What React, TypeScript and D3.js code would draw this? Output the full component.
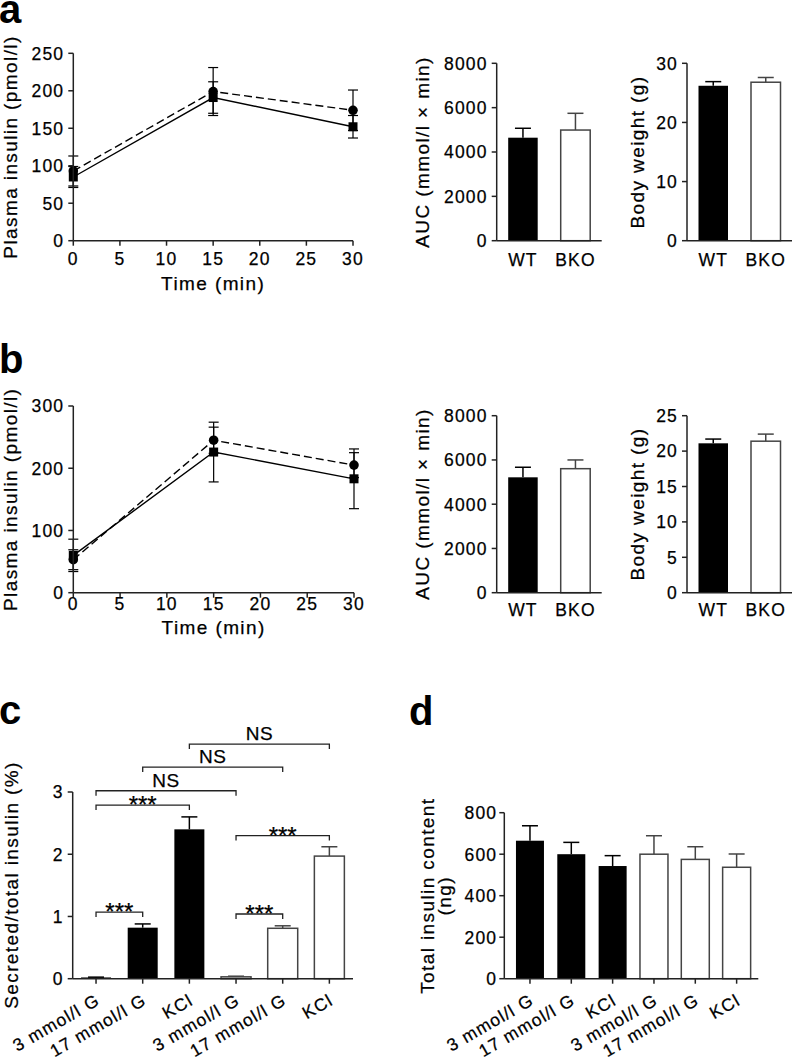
import React from 'react';
import * as d3 from 'd3';

const FONT = "'Liberation Sans', Arial, Helvetica, sans-serif";
const AX = '#222';
const GRAY = '#444';

// ---------- data ----------
const timeMin = [0, 15, 30];
const timeTicks = [0, 5, 10, 15, 20, 25, 30];

const aWtInsulin = [85, 191, 152];
const aWtInsulinSem = [14, 21, 15];
const aBkoInsulin = [93, 199, 174];
const aBkoInsulinSem = [20, 32, 27];
const aInsulinTicks = [0, 50, 100, 150, 200, 250];

const bWtInsulin = [60, 226, 183];
const bWtInsulinSem = [26, 48, 48];
const bBkoInsulin = [53, 245, 205];
const bBkoInsulinSem = [16, 21, 20];
const bInsulinTicks = [0, 100, 200, 300];

const genotypes = ['WT', 'BKO'];
const genotypeFill = ['#000', '#fff'];
const aAuc = [4645, 4990];
const aAucSem = [425, 755];
const aWeight = [26.2, 26.8];
const aWeightSem = [0.7, 0.8];
const bAuc = [5215, 5605];
const bAucSem = [455, 395];
const bWeight = [21.1, 21.4];
const bWeightSem = [0.6, 1.0];
const aucTicks = [0, 2000, 4000, 6000, 8000];
const aWeightTicks = [0, 10, 20, 30];
const bWeightTicks = [0, 5, 10, 15, 20, 25];

const conditions = ['3 mmol/l G', '17 mmol/l G', 'KCl', '3 mmol/l G', '17 mmol/l G', 'KCl'];
const conditionFill = ['#000', '#000', '#000', '#fff', '#fff', '#fff'];
const secreted = [0.02, 0.82, 2.4, 0.03, 0.81, 1.97];
const secretedSem = [0.005, 0.06, 0.2, 0.01, 0.04, 0.15];
const secretedTicks = [0, 1, 2, 3];
const sigFrom = [0, 0, 0, 1, 2, 3, 3];
const sigTo = [1, 2, 3, 4, 5, 5, 4];
const sigLevel = [1.07, 2.79, 3.02, 3.4, 3.77, 2.3, 1.04];
const sigLabel = ['***', '***', 'NS', 'NS', 'NS', '***', '***'];

const content = [665, 600, 543, 600, 575, 537];
const contentSem = [72, 57, 50, 89, 61, 64];
const contentTicks = [0, 200, 400, 600, 800];

// ---------- components ----------
const TICK_FS = 17.5;
const TICK_LS = '1.2px';
const TITLE_FS = 19;
const TITLE_LS = '1.4px';
const TXT = { stroke: '#000', strokeWidth: 0.25 } as const;

function YAxis({ x, y, ticks, labelGap }: any) {
  const [r0, r1] = [y(ticks[0]), y(ticks[ticks.length - 1])];
  return (
    <g>
      <line x1={x} x2={x} y1={r0} y2={r1} stroke={AX} strokeWidth={1.5} />
      {ticks.map((t: number) => (
        <g key={t}>
          <line x1={x - 5} x2={x} y1={y(t)} y2={y(t)} stroke={AX} strokeWidth={1.5} />
          <text x={x - labelGap} y={y(t) + 6.3} textAnchor="end" fontSize={TICK_FS} {...TXT} style={{ letterSpacing: TICK_LS }}>
            {t}
          </text>
        </g>
      ))}
    </g>
  );
}

function YTitle({ x, y, lines }: any) {
  return (
    <g>
      {lines.map((l: string, i: number) => (
        <text
          key={i}
          transform={`translate(${x + i * 16.5},${y}) rotate(-90)`}
          textAnchor="middle"
          fontSize={TITLE_FS}
          {...TXT}
          style={{ letterSpacing: TITLE_LS }}
        >
          {l}
        </text>
      ))}
    </g>
  );
}

function LinePanel({ left, right, top, bottom, yMax, yTicks, wt, wtSem, bko, bkoSem, tickDy, titleDy }: any) {
  const x = d3.scaleLinear().domain([0, 30]).range([left, right]);
  const y = d3.scaleLinear().domain([0, yMax]).range([bottom, top]);
  const line = d3
    .line<number>()
    .x((_, i) => x(timeMin[i]))
    .y((d) => y(d));
  const cap = 5;
  const errs = (m: number[], s: number[], k: string) =>
    m.map((v, i) => {
      const cx = x(timeMin[i]);
      return (
        <g key={k + i} stroke="#000" strokeWidth={1.2}>
          <line x1={cx} x2={cx} y1={y(v - s[i])} y2={y(v + s[i])} />
          <line x1={cx - cap} x2={cx + cap} y1={y(v + s[i])} y2={y(v + s[i])} />
          <line x1={cx - cap} x2={cx + cap} y1={y(v - s[i])} y2={y(v - s[i])} />
        </g>
      );
    });
  return (
    <g>
      {errs(wt, wtSem, 'w')}
      {errs(bko, bkoSem, 'b')}
      <path d={line(bko) || ''} fill="none" stroke="#000" strokeWidth={1.4} strokeDasharray="8,4" />
      <path d={line(wt) || ''} fill="none" stroke="#000" strokeWidth={1.4} />
      {bko.map((v: number, i: number) => (
        <circle key={'c' + i} cx={x(timeMin[i])} cy={y(v)} r={4.8} fill="#000" />
      ))}
      {wt.map((v: number, i: number) => (
        <rect key={'s' + i} x={x(timeMin[i]) - 4.5} y={y(v) - 4.5} width={9} height={9} fill="#000" />
      ))}
      <YAxis x={left} y={y} ticks={yTicks} labelGap={9} />
      <line x1={left} x2={right} y1={bottom} y2={bottom} stroke={AX} strokeWidth={1.5} />
      {timeTicks.map((t) => (
        <g key={t}>
          <line x1={x(t)} x2={x(t)} y1={bottom} y2={bottom + 5} stroke={AX} strokeWidth={1.5} />
          <text x={x(t)} y={bottom + tickDy} textAnchor="middle" fontSize={TICK_FS} {...TXT} style={{ letterSpacing: TICK_LS }}>
            {t}
          </text>
        </g>
      ))}
      <text x={(left + right) / 2} y={bottom + titleDy} textAnchor="middle" fontSize={TITLE_FS} {...TXT} style={{ letterSpacing: TITLE_LS }}>
        Time (min)
      </text>
      <YTitle x={17} y={(top + bottom) / 2} lines={['Plasma insulin (pmol/l)']} />
    </g>
  );
}

function BarPanel({
  axisX, axisEnd, bandStart, bandEnd, top, bottom, yMax, yTicks, cats, fills, values, sems,
  barWidth, rotated, labelDy, labelGap, xTicks,
}: any) {
  const idx = cats.map((_: string, i: number) => i);
  const band = d3.scaleBand<number>().domain(idx).range([bandStart, bandEnd]).padding(0);
  const y = d3.scaleLinear().domain([0, yMax]).range([bottom, top]);
  const cx = (i: number) => (band(i) as number) + band.bandwidth() / 2;
  const capW = 8;
  return (
    <g>
      {values.map((v: number, i: number) => {
        const stroke = fills[i] === '#000' ? '#000' : GRAY;
        const top2 = y(v + sems[i]);
        return (
          <g key={i}>
            <line x1={cx(i)} x2={cx(i)} y1={y(v)} y2={top2} stroke={stroke} strokeWidth={1.5} />
            <line x1={cx(i) - capW} x2={cx(i) + capW} y1={top2} y2={top2} stroke={stroke} strokeWidth={1.5} />
            <rect
              x={cx(i) - barWidth / 2}
              y={y(v)}
              width={barWidth}
              height={bottom - y(v)}
              fill={fills[i]}
              stroke={stroke}
              strokeWidth={fills[i] === '#000' ? 0 : 1.5}
            />
          </g>
        );
      })}
      <YAxis x={axisX} y={y} ticks={yTicks} labelGap={labelGap} />
      <line x1={axisX} x2={axisEnd} y1={bottom} y2={bottom} stroke={AX} strokeWidth={1.5} />
      {cats.map((c: string, i: number) => (
        <g key={i}>
          {xTicks && <line x1={cx(i)} x2={cx(i)} y1={bottom} y2={bottom + 5} stroke={AX} strokeWidth={1.5} />}
          {rotated ? (
            <text
              transform={`translate(${cx(i) + 5},${bottom + 25}) rotate(-30)`}
              textAnchor="end"
              fontSize={TICK_FS}
              {...TXT}
              style={{ letterSpacing: TICK_LS }}
            >
              {c}
            </text>
          ) : (
            <text x={cx(i)} y={bottom + labelDy} textAnchor="middle" fontSize={TICK_FS} {...TXT} style={{ letterSpacing: TICK_LS }}>
              {c}
            </text>
          )}
        </g>
      ))}
    </g>
  );
}

function SigBrackets({ band0, band1, bottom, top, yMax }: any) {
  const x = d3.scaleBand<number>().domain([0, 1, 2, 3, 4, 5]).range([band0, band1]);
  const y = d3.scaleLinear().domain([0, yMax]).range([bottom, top]);
  const cx = (i: number) => (x(i) as number) + x.bandwidth() / 2;
  return (
    <g>
      {sigFrom.map((f, k) => {
        const yy = y(sigLevel[k]);
        const x1 = cx(f);
        const x2 = cx(sigTo[k]);
        const star = sigLabel[k] === '***';
        return (
          <g key={k}>
            <path d={`M${x1},${yy + 5}V${yy}H${x2}V${yy + 5}`} fill="none" stroke={AX} strokeWidth={1.3} />
            <text
              x={(x1 + x2) / 2}
              y={star ? yy + 8 : yy - 4}
              textAnchor="middle"
              fontSize={star ? 24 : 19}
              {...TXT}
              style={{ letterSpacing: star ? '0px' : '0.5px' }}
            >
              {sigLabel[k]}
            </text>
          </g>
        );
      })}
    </g>
  );
}

export default function App() {
  return (
    <svg
      width={793}
      height={1059}
      style={{ position: 'absolute', left: 0, top: 0, background: '#fff' }}
      fontFamily={FONT}
      fill="#000"
    >
      <rect width={793} height={1059} fill="#fff" />
      {/* panel labels */}
      <text x={-1} y={23} fontSize={40} fontWeight="bold">a</text>
      <text x={-1} y={373} fontSize={40} fontWeight="bold">b</text>
      <text x={-1} y={724} fontSize={40} fontWeight="bold">c</text>
      <text x={409} y={725} fontSize={40} fontWeight="bold">d</text>

      {/* panel a */}
      <LinePanel
        left={73.3} right={353} top={53.3} bottom={240.7} yMax={250} yTicks={aInsulinTicks}
        wt={aWtInsulin} wtSem={aWtInsulinSem} bko={aBkoInsulin} bkoSem={aBkoInsulinSem}
        tickDy={24.5} titleDy={49}
      />
      <BarPanel
        axisX={496.7} axisEnd={601.7} bandStart={496.7} bandEnd={601.7} top={63.3} bottom={240.7}
        yMax={8000} yTicks={aucTicks} cats={genotypes} fills={genotypeFill} values={aAuc} sems={aAucSem}
        barWidth={29.5} labelDy={25} labelGap={9}
      />
      <YTitle x={429} y={152} lines={['AUC (mmol/l × min)']} />
      <BarPanel
        axisX={687} axisEnd={792} bandStart={687} bandEnd={792} top={63.3} bottom={240.7}
        yMax={30} yTicks={aWeightTicks} cats={genotypes} fills={genotypeFill} values={aWeight} sems={aWeightSem}
        barWidth={29.5} labelDy={25} labelGap={9}
      />
      <YTitle x={644} y={152} lines={['Body weight (g)']} />

      {/* panel b */}
      <LinePanel
        left={73.3} right={354} top={406} bottom={592.7} yMax={300} yTicks={bInsulinTicks}
        wt={bWtInsulin} wtSem={bWtInsulinSem} bko={bBkoInsulin} bkoSem={bBkoInsulinSem}
        tickDy={17} titleDy={41}
      />
      <BarPanel
        axisX={496.7} axisEnd={601.7} bandStart={496.7} bandEnd={601.7} top={415.7} bottom={592.7}
        yMax={8000} yTicks={aucTicks} cats={genotypes} fills={genotypeFill} values={bAuc} sems={bAucSem}
        barWidth={29.5} labelDy={23} labelGap={9}
      />
      <YTitle x={429} y={504} lines={['AUC (mmol/l × min)']} />
      <BarPanel
        axisX={687} axisEnd={792} bandStart={687} bandEnd={792} top={415.7} bottom={592.7}
        yMax={25} yTicks={bWeightTicks} cats={genotypes} fills={genotypeFill} values={bWeight} sems={bWeightSem}
        barWidth={29.5} labelDy={23} labelGap={9}
      />
      <YTitle x={644} y={504} lines={['Body weight (g)']} />

      {/* panel c */}
      <BarPanel
        axisX={72.7} axisEnd={353} bandStart={72.7} bandEnd={352.7} top={792} bottom={978.7}
        yMax={3} yTicks={secretedTicks} cats={conditions} fills={conditionFill} values={secreted} sems={secretedSem}
        barWidth={30} rotated xTicks labelGap={9}
      />
      <SigBrackets band0={72.7} band1={352.7} bottom={978.7} top={792} yMax={3} />
      <YTitle x={18} y={885} lines={['Secreted/total insulin (%)']} />

      {/* panel d */}
      <BarPanel
        axisX={504.3} axisEnd={758.3} bandStart={509.3} bandEnd={757.3} top={812.7} bottom={978.7}
        yMax={800} yTicks={contentTicks} cats={conditions} fills={conditionFill} values={content} sems={contentSem}
        barWidth={28} rotated xTicks labelGap={7}
      />
      <YTitle x={434} y={895.7} lines={['Total insulin content', '(ng)']} />
    </svg>
  );
}
